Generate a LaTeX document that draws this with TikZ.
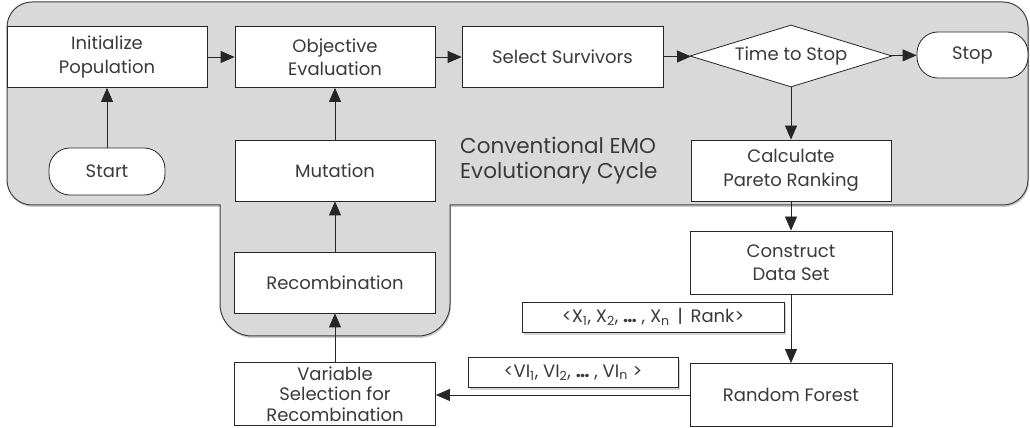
\documentclass[tikz,border=0pt]{standalone}
\usepackage{fontspec}
\setmainfont{Poppins}
\usetikzlibrary{arrows.meta,shapes.geometric,shadows}
\definecolor{regionfill}{HTML}{D9D9D9}
\definecolor{regionline}{HTML}{404040}
\definecolor{txt}{HTML}{3A3A3A}
\begin{document}
\begin{tikzpicture}[x=1pt,y=1pt,
  box/.style={draw=black!85, line width=0.8pt, fill=white, minimum width=200pt,
    minimum height=61pt, align=center, font=\fontsize{18}{23.5}\selectfont,
    text=txt, inner sep=0pt},
  term/.style={box, rounded corners=21pt, minimum width=116pt, minimum height=47pt},
  dec/.style={box, diamond, aspect=3.25, minimum width=202pt, minimum height=62pt},
  lab/.style={draw=black!85, fill=white, line width=0.8pt, text=txt,
    drop shadow={shadow xshift=2pt,shadow yshift=-3pt,opacity=0.35},
    font=\fontsize{18}{20}\selectfont, minimum height=30pt, inner sep=0pt},
  arr/.style={-{Triangle[length=14pt,width=12pt]}, line width=0.8pt, draw=black!85}]
\useasboundingbox (0,0) rectangle (1030,428);
% grey region
\draw[fill=regionfill, draw=regionline, line width=1pt,
  drop shadow={shadow xshift=1pt,shadow yshift=-2pt,opacity=0.4}]
  (220,223) -- (32,223) arc[start angle=270,end angle=180,radius=25]
  -- (7,401) arc[start angle=180,end angle=90,radius=25]
  -- (1003,426) arc[start angle=90,end angle=0,radius=25]
  -- (1028,248) arc[start angle=0,end angle=-90,radius=25]
  -- (450,223) -- (450,124) arc[start angle=0,end angle=-90,radius=32]
  -- (252,92) arc[start angle=270,end angle=180,radius=32] -- cycle;
% nodes
\node[box] (init) at (107,371) {Initialize\\Population};
\node[box] (obj) at (335,371) {Objective\\Evaluation};
\node[box, minimum width=201pt] (sel) at (562.5,371) {Select Survivors};
\node[dec] (dia) at (791,372) {Time to Stop};
\node[term, minimum width=111pt, minimum height=46pt] (stop) at (972.5,373) {Stop};
\node[term] (start) at (107,256.5) {Start};
\node[box] (mut) at (335,257.5) {Mutation};
\node[box] (par) at (791,257.5) {Calculate\\Pareto Ranking};
\node[box, minimum width=201pt] (rec) at (335,145.5) {Recombination};
\node[box, minimum width=201pt, minimum height=63pt, font=\fontsize{18}{20.5}\selectfont]
  (var) at (335,34) {Variable\\Selection for\\Recombination};
\node[box, minimum width=202pt, minimum height=63pt] (con) at (791,165.5) {Construct\\Data Set};
\node[box, minimum width=202pt, minimum height=63pt] (rf) at (791,33) {Random Forest};
\node[anchor=north west, align=left, text=txt, font=\fontsize{21.5}{25}\selectfont, inner sep=0pt]
  (cap) at (460,291) {Conventional EMO\\Evolutionary Cycle};
\node[lab, minimum width=262pt] (l1) at (653,111)
  {<X\textsubscript{1}, X\textsubscript{2}, \textbf{…} , X\textsubscript{n} \,|\, Rank>};
\node[lab, minimum width=210pt] (l2) at (573,55.5)
  {<VI\textsubscript{1}, VI\textsubscript{2}, \textbf{…} , VI\textsubscript{n} >};
% connectors
\draw[arr] (init) -- (obj);
\draw[arr] (obj) -- (sel);
\draw[arr] (sel) -- (dia);
\draw[arr] (dia) -- (stop);
\draw[arr] (start) -- (init);
\draw[arr] (mut) -- (obj);
\draw[arr] (rec) -- (mut);
\draw[arr] (var) -- (rec);
\draw[arr] (dia) -- (par);
\draw[arr] (par) -- (con);
\draw[arr] (con) -- (rf);
\draw[arr] (rf.west) -- (rf.west -| var.east);
\end{tikzpicture}
\end{document}
